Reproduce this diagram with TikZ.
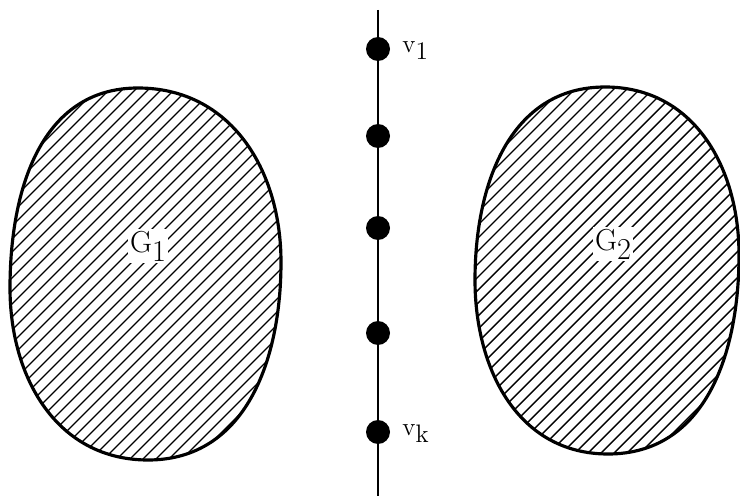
\documentclass[tikz,border=0pt]{standalone}
\usepackage{tikz}
\usetikzlibrary{positioning}

\begin{document}
\begin{tikzpicture}[x=0.02cm,y=-0.02cm,
  vertice/.style={circle,fill=black,inner sep=0pt,minimum size=0.48cm},
  etiqueta/.style={font=\Large,inner sep=1pt},
  grafo/.style={line width=1.8pt},
  rayado/.style={line width=0.8pt},
  nombre/.style={font=\LARGE,fill=white,inner sep=1pt}]
\useasboundingbox (0,0) rectangle (740,496);
% linea central
\coordinate (arriba) at (378,10);
\coordinate (abajo) at (378,496);
\draw[line width=1.3pt] (arriba) -- (abajo);
\node[vertice] (v1) at (378,49) {};
\node[vertice] (v2) at (378,136) {};
\node[vertice] (v3) at (378,228) {};
\node[vertice] (v4) at (378,333) {};
\node[vertice] (v5) at (378,432) {};
\node[etiqueta,right=0.2cm of v1,yshift=-1pt] (lv1) {v\raisebox{-0.6ex}{1}};
\node[etiqueta,right=0.2cm of v5,yshift=-1pt] (lvk) {v\raisebox{-0.6ex}{k}};
% G1
\def\bordeA{(138,88) to[out=0,in=90,looseness=1.05] (281,262) to[out=-90,in=0,looseness=1.05] (148,460) to[out=180,in=-90,looseness=1.05] (10,288) to[out=90,in=180,looseness=1.05] (138,88)}
\begin{scope}
\clip \bordeA;
\foreach \i in {-600,-587,...,800} \draw[rayado] (\i,500) -- ++(500,-500);
\end{scope}
\draw[grafo] \bordeA;
% G2
\def\bordeB{(605,87) to[out=0,in=90,looseness=1.05] (739,255) to[out=-90,in=0,looseness=1.05] (608,454) to[out=180,in=-90,looseness=1.05] (475,280) to[out=90,in=180,looseness=1.05] (605,87)}
\begin{scope}
\clip \bordeB;
\foreach \i in {-200,-187,...,1200} \draw[rayado] (\i,500) -- ++(500,-500);
\end{scope}
\draw[grafo] \bordeB;
\node[nombre] (G1) at (148,246) {G\raisebox{-0.7ex}{1}};
\node[nombre] (G2) at (613,244) {G\raisebox{-0.7ex}{2}};
\end{tikzpicture}
\end{document}
